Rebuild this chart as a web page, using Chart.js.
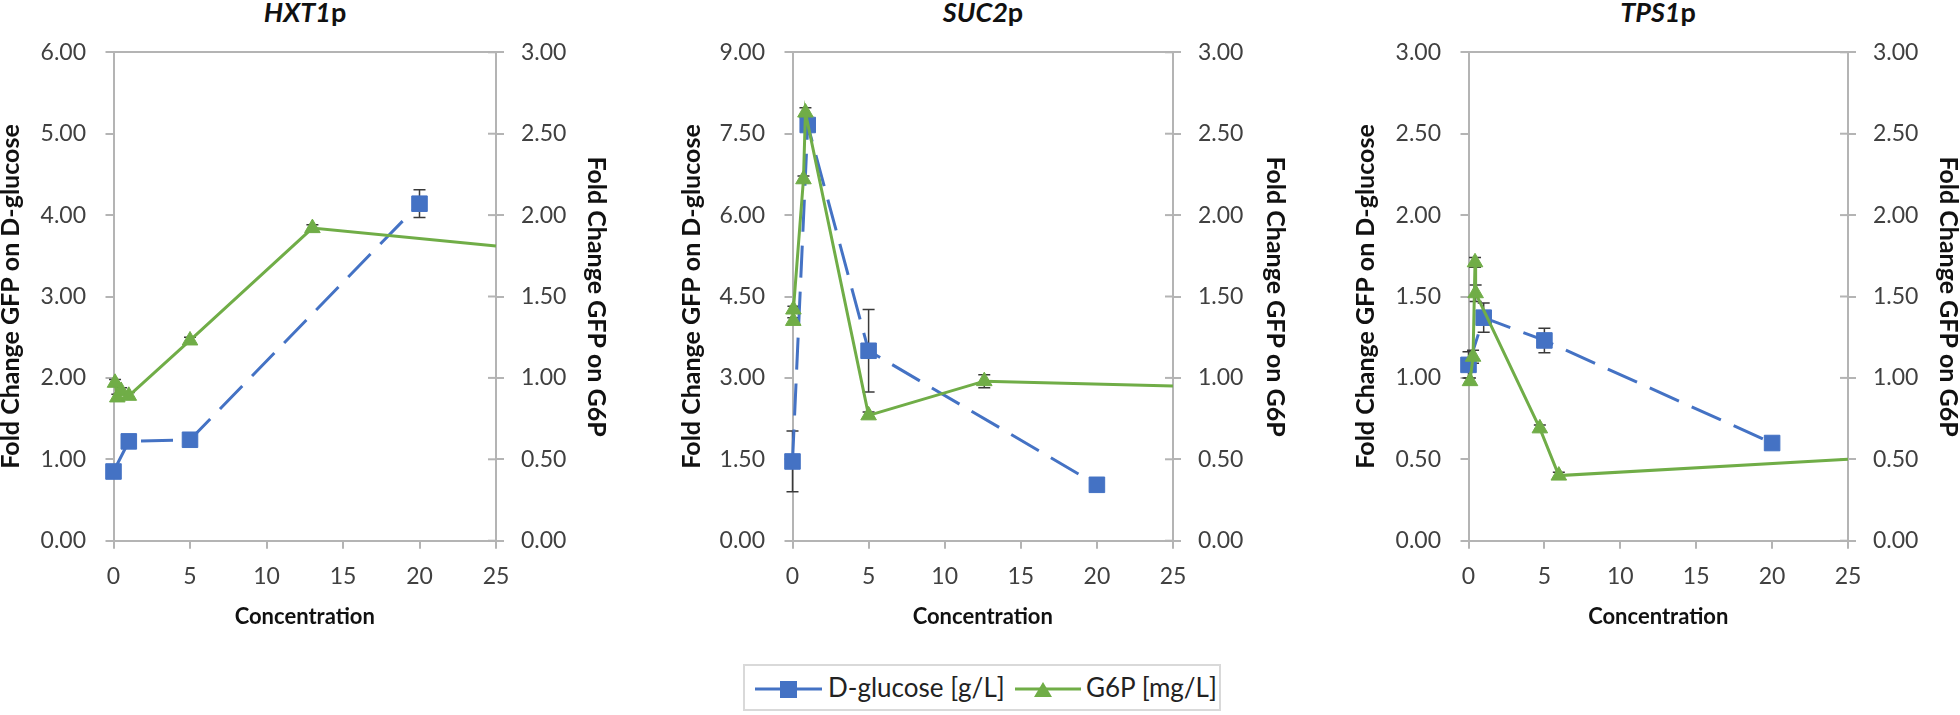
<!DOCTYPE html>
<html>
<head>
<meta charset="utf-8">
<script src="https://cdn.jsdelivr.net/npm/chart.js@4.4.1/dist/chart.umd.min.js"></script>
<style>
  body { margin: 0; width: 1960px; height: 715px; background: #fff; overflow: hidden; position: relative; }
  canvas { position: absolute; top: 0; }
  .title { position: absolute; top: -3px; font: bold 27px Lato, sans-serif; line-height: 30px; color: #111;
           transform: translateX(-50%); white-space: nowrap; }
  #legend { position: absolute; left: 743px; top: 664px; width: 478px; height: 47px; border: 2px solid #d9d9d9; box-sizing: border-box; }
</style>
</head>
<body>
<div class="title" style="left:305px"><i>HXT1</i>p</div>
<div class="title" style="left:983px"><i>SUC2</i>p</div>
<div class="title" style="left:1658px"><i>TPS1</i>p</div>
<canvas id="hxt"></canvas>
<canvas id="suc"></canvas>
<canvas id="tps"></canvas>
<div id="legend">
  <svg width="478" height="47" style="position:absolute;left:-2px;top:-2px">
    <line x1="12" y1="25" x2="79" y2="25" stroke="#4472C4" stroke-width="3"/>
    <rect x="37" y="17" width="17" height="17" fill="#4472C4"/>
    <text x="85" y="33" font-family="Lato" font-size="26" fill="#222">D-glucose [g/L]</text>
    <line x1="272" y1="25" x2="338" y2="25" stroke="#70AD47" stroke-width="3"/>
    <polygon points="300,18 291,33 309,33" fill="#70AD47"/>
    <text x="343" y="33" font-family="Lato" font-size="26" fill="#222">G6P [mg/L]</text>
  </svg>
</div>
<script>
// x axis (concentration) ticks
const xTicks = [0, 5, 10, 15, 20, 25];

// D-glucose, left axis
const glucoseConc = [0, 1, 5, 20];
const hxtGlucose = [0.85, 1.22, 1.24, 4.14];
const hxtGlucoseErr = [0, 0, 0, 0.17];
const sucGlucose = [1.46, 7.66, 3.50, 1.03];
const sucGlucoseErr = [0.56, 0, 0.76, 0];
const tpsGlucose = [1.08, 1.37, 1.23, 0.60];
const tpsGlucoseErr = [0.08, 0.09, 0.075, 0.02];

// G6P, right axis (last point = where the line runs off the plot at 25)
const hxtG6PConc = [0.1, 0.25, 0.5, 1, 5, 13, 25];
const hxtG6P = [0.97, 0.88, 0.92, 0.89, 1.23, 1.92, 1.81];
const hxtG6PErr = [0.02, 0.02, 0.02, 0.02, 0.02, 0.02, 0];
const sucG6PConc = [0.05, 0.06, 0.72, 0.85, 5, 12.6, 25];
const sucG6P = [1.35, 1.42, 2.22, 2.63, 0.77, 0.98, 0.95];
const sucG6PErr = [0.02, 0.02, 0.02, 0.03, 0.02, 0.04, 0];
const tpsG6PConc = [0.1, 0.3, 0.43, 0.47, 4.7, 5.95, 25];
const tpsG6P = [0.98, 1.13, 1.71, 1.52, 0.69, 0.40, 0.50];
const tpsG6PErr = [0.02, 0.04, 0.03, 0.05, 0.02, 0.02, 0];

// y tick labels
const hxtLeftTicks = [0, 1, 2, 3, 4, 5, 6];
const sucLeftTicks = [0, 1.5, 3, 4.5, 6, 7.5, 9];
const tpsLeftTicks = [0, 0.5, 1, 1.5, 2, 2.5, 3];
const g6pTicks = [0, 0.5, 1, 1.5, 2, 2.5, 3];

const blue = '#4472C4';
const green = '#70AD47';
const axisGray = '#b4b4b4';
const tickText = '#404040';
const H = 640, plotTop = 52.3, plotBottom = 540.7;

const errorBars = {
  id: 'errorBars',
  beforeDatasetsDraw(chart) {
    const { ctx, scales, chartArea } = chart;
    ctx.save();
    ctx.strokeStyle = '#3a3a3a';
    ctx.lineWidth = 1.5;
    chart.data.datasets.forEach(ds => {
      const ys = scales[ds.yAxisID];
      ds.data.forEach((p, i) => {
        const e = ds.errors[i];
        if (!e) return;
        const x = scales.x.getPixelForValue(p.x);
        const top = ys.getPixelForValue(p.y + e);
        const bot = ys.getPixelForValue(p.y - e);
        ctx.beginPath();
        ctx.moveTo(x, top); ctx.lineTo(x, bot);
        ctx.moveTo(x - 6, top); ctx.lineTo(x + 6, top);
        ctx.moveTo(x - 6, bot); ctx.lineTo(x + 6, bot);
        ctx.stroke();
      });
    });
    // right axis tick marks cross into the plot
    const y1 = scales.y1;
    ctx.strokeStyle = axisGray;
    ctx.lineWidth = 2;
    y1.ticks.forEach(t => {
      const y = y1.getPixelForValue(t.value);
      ctx.beginPath();
      ctx.moveTo(chartArea.right - 8, y);
      ctx.lineTo(chartArea.right, y);
      ctx.stroke();
    });
    ctx.restore();
  }
};

function setTicks(list) {
  return scale => { scale.ticks = list.map(v => ({ value: v })); };
}

function drawPanel(p) {
  const cl = Math.round(p.lt - 15), cr = Math.round(p.rt + 15);
  const canvas = document.getElementById(p.id);
  canvas.width = cr - cl;
  canvas.height = H;
  canvas.style.left = cl + 'px';
  const leftMax = p.leftTicks[p.leftTicks.length - 1];
  const tickFont = { family: 'Lato', size: 23 };
  const titleFont = { family: 'Lato', size: 25, weight: 'bold', lineHeight: 1.2 };

  new Chart(canvas.getContext('2d'), {
    type: 'line',
    data: {
      datasets: [{
        label: 'G6P [mg/L]',
        data: p.g6pConc.map((x, i) => ({ x: x, y: p.g6p[i] })),
        errors: p.g6pErr,
        yAxisID: 'y1',
        borderColor: green,
        backgroundColor: green,
        borderWidth: 3,
        pointStyle: 'triangle',
        pointRadius: ctx => ctx.dataIndex === p.g6p.length - 1 ? 0 : 9,
        pointBorderWidth: 1,
        clip: false,
        order: 0
      }, {
        label: 'D-glucose [g/L]',
        data: glucoseConc.map((x, i) => ({ x: x, y: p.glucose[i] })),
        errors: p.glucoseErr,
        yAxisID: 'y',
        borderColor: blue,
        backgroundColor: blue,
        borderWidth: 3,
        borderDash: [32, 14],
        pointStyle: 'rect',
        pointRadius: 11,
        pointBorderWidth: 1,
        clip: false,
        order: 1
      }]
    },
    options: {
      responsive: false,
      animation: false,
      layout: { padding: { top: plotTop, left: 0, right: 0, bottom: 0 } },
      plugins: { legend: { display: false }, tooltip: { enabled: false } },
      scales: {
        x: {
          type: 'linear', min: 0, max: 25,
          afterBuildTicks: setTicks(xTicks),
          afterFit: s => { s.height = H - plotBottom; },
          ticks: { font: tickFont, color: tickText, padding: 14 },
          grid: { drawOnChartArea: false, color: axisGray, lineWidth: 2, tickLength: 8 },
          border: { color: axisGray, width: 2 },
          title: { display: true, text: 'Concentration', font: { family: 'Lato', size: 22, weight: 'bold' }, color: '#111', padding: { top: 0, bottom: 10 } }
        },
        y: {
          type: 'linear', position: 'left', min: 0, max: leftMax,
          afterBuildTicks: setTicks(p.leftTicks),
          afterFit: s => { s.width = p.L - cl; },
          ticks: { font: tickFont, color: tickText, padding: 19.5, callback: v => v.toFixed(2) },
          grid: { color: c => (c.tick && c.tick.value === leftMax) ? axisGray : 'transparent', tickColor: axisGray, lineWidth: 2, tickLength: 8 },
          border: { color: axisGray, width: 2 },
          title: { display: true, text: 'Fold Change GFP on D-glucose', font: titleFont, color: '#111', padding: 0 }
        },
        y1: {
          type: 'linear', position: 'right', min: 0, max: 3,
          afterBuildTicks: setTicks(g6pTicks),
          afterFit: s => { s.width = cr - p.R; },
          ticks: { font: tickFont, color: tickText, padding: 17, callback: v => v.toFixed(2) },
          grid: { drawOnChartArea: false, color: axisGray, lineWidth: 2, tickLength: 8 },
          border: { color: axisGray, width: 2 },
          title: { display: true, text: 'Fold Change GFP on G6P', font: titleFont, color: '#111', padding: 0 }
        }
      }
    },
    plugins: [errorBars]
  });
}

drawPanel({ id: 'hxt', L: 113.5, R: 496, lt: 10.5, rt: 595.6, leftTicks: hxtLeftTicks,
  glucose: hxtGlucose, glucoseErr: hxtGlucoseErr, g6pConc: hxtG6PConc, g6p: hxtG6P, g6pErr: hxtG6PErr });
drawPanel({ id: 'suc', L: 792.5, R: 1173, lt: 691.6, rt: 1275.3, leftTicks: sucLeftTicks,
  glucose: sucGlucose, glucoseErr: sucGlucoseErr, g6pConc: sucG6PConc, g6p: sucG6P, g6pErr: sucG6PErr });
drawPanel({ id: 'tps', L: 1468.5, R: 1848, lt: 1366, rt: 1948, leftTicks: tpsLeftTicks,
  glucose: tpsGlucose, glucoseErr: tpsGlucoseErr, g6pConc: tpsG6PConc, g6p: tpsG6P, g6pErr: tpsG6PErr });
</script>
</body>
</html>
